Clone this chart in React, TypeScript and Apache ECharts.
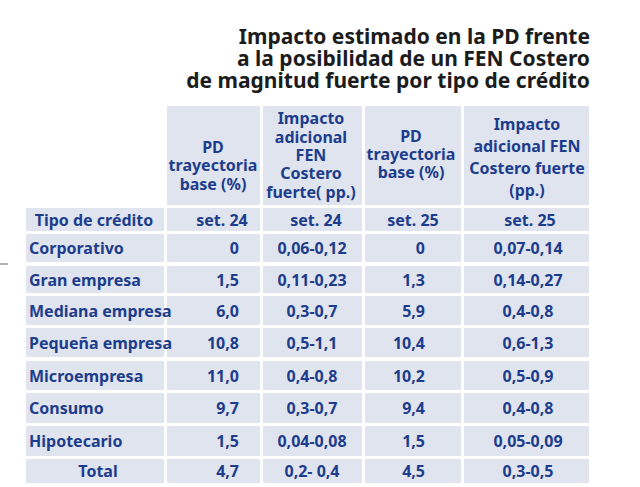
import React, { useEffect, useRef } from "react";
import * as echarts from "echarts";

// ---------- data ----------
const titleLines = [
  "Impacto estimado en la PD frente",
  "a la posibilidad de un FEN Costero",
  "de magnitud fuerte por tipo de crédito",
];
const columnHeaders = [
  [],
  ["PD", "trayectoria", "base (%)"],
  ["Impacto", "adicional", "FEN", "Costero", "fuerte( pp.)"],
  ["PD", "trayectoria", "base (%)"],
  ["Impacto", "adicional FEN", "Costero fuerte", "(pp.)"],
];
const periodLabels = ["Tipo de crédito", "set. 24", "set. 24", "set. 25", "set. 25"];
const categories = [
  "Corporativo",
  "Gran empresa",
  "Mediana empresa",
  "Pequeña empresa",
  "Microempresa",
  "Consumo",
  "Hipotecario",
  "Total",
];
const pdBaseSet24 = [0, 1.5, 6.0, 10.8, 11.0, 9.7, 1.5, 4.7];
const impactSet24 = ["0,06-0,12", "0,11-0,23", "0,3-0,7", "0,5-1,1", "0,4-0,8", "0,3-0,7", "0,04-0,08", "0,2- 0,4"];
const pdBaseSet25 = [0, 1.3, 5.9, 10.4, 10.2, 9.4, 1.5, 4.5];
const impactSet25 = ["0,07-0,14", "0,14-0,27", "0,4-0,8", "0,6-1,3", "0,5-0,9", "0,4-0,8", "0,05-0,09", "0,3-0,5"];

// ---------- layout / style ----------
const W = 640;
const H = 487;
const colEdges = [
  [26, 164],
  [167, 260],
  [263, 362],
  [365, 461],
  [464, 589],
];
const headerEdge = [106, 205];
const periodEdge = [208, 231];
const rowEdges = [
  [234, 262],
  [266, 293],
  [296, 325],
  [328, 357],
  [361, 390],
  [393, 423],
  [426, 456],
  [459, 483],
];
// header text placement per column: [centerX, centerY, lineHeight]
const headerPlace = [
  [95, 155, 18],
  [213, 165, 18.5],
  [311, 155, 18.3],
  [411, 154, 18],
  [527, 157, 22],
];
const periodX = [94, 222, 316, 413, 530];
// data text placement: [x, align]
const dataPlace: [number, string][] = [
  [29, "left"],
  [239, "right"],
  [312, "center"],
  [425, "right"],
  [528, "center"],
];
const titleRight = 590;
const titleY = [36, 58, 80];
const CELL = "#dfe4ee";
const INK = "#1d3d8c";
const FONT = "'Noto Sans', sans-serif";
const BODY_SIZE = 16;

const fmt = (v: number) => (v === 0 ? "0" : v.toFixed(1).replace(".", ","));

type Cell = { value: number[]; lines: string[]; kind: string };

function buildCells(): Cell[] {
  const cells: Cell[] = [];
  for (let c = 1; c < 5; c++) cells.push({ value: [c, -2], lines: columnHeaders[c], kind: "header" });
  for (let c = 0; c < 5; c++) cells.push({ value: [c, -1], lines: [periodLabels[c]], kind: "period" });
  categories.forEach((cat, r) => {
    const row = [cat, fmt(pdBaseSet24[r]), impactSet24[r], fmt(pdBaseSet25[r]), impactSet25[r]];
    row.forEach((t, c) =>
      cells.push({ value: [c, r], lines: [t], kind: cat === "Total" && c === 0 ? "total" : "data" })
    );
  });
  return cells;
}

export default function App() {
  const ref = useRef<HTMLDivElement>(null);
  useEffect(() => {
    document.body.style.margin = "0";
    const chart = echarts.init(ref.current!, null, { renderer: "svg" });
    const cells = buildCells();

    const cellBox = (api: any, c: number, r: number) => {
      const ce = colEdges[c];
      const re = r === -2 ? headerEdge : r === -1 ? periodEdge : rowEdges[r];
      return [api.coord([ce[0], re[0]]), api.coord([ce[1], re[1]])];
    };

    chart.setOption({
      animation: false,
      backgroundColor: "#ffffff",
      grid: { left: 0, right: 0, top: 0, bottom: 0 },
      xAxis: { type: "value", min: 0, max: W, show: false },
      yAxis: { type: "value", min: 0, max: H, inverse: true, show: false },
      graphic: [
        ...titleLines.map((t, i) => ({
          type: "text",
          x: titleRight,
          y: titleY[i],
          style: {
            text: t,
            align: "right",
            verticalAlign: "middle",
            fontSize: 21,
            fontWeight: "bold",
            fontFamily: FONT,
            fill: "#1c1c1c",
          },
        })),
        {
          type: "line",
          shape: { x1: 0, y1: 264, x2: 8, y2: 264 },
          style: { stroke: "#666", lineWidth: 1 },
        },
      ],
      series: [
        {
          type: "custom",
          name: "cells",
          coordinateSystem: "cartesian2d",
          z: 1,
          data: cells,
          renderItem: (params: any, api: any) => {
            const [p0, p1] = cellBox(api, api.value(0), api.value(1));
            return {
              type: "rect",
              shape: { x: p0[0], y: p0[1], width: p1[0] - p0[0], height: p1[1] - p0[1] },
              style: { fill: CELL },
            };
          },
        },
        {
          type: "custom",
          name: "labels",
          coordinateSystem: "cartesian2d",
          z: 5,
          data: cells,
          renderItem: (params: any, api: any) => {
            const cell = cells[params.dataIndex];
            const c = api.value(0);
            const r = api.value(1);
            const [p0, p1] = cellBox(api, c, r);
            let tx: number;
            let ty: number;
            let align = "center";
            let lh = 18;
            if (cell.kind === "header") {
              const hp = headerPlace[c];
              const pt = api.coord([hp[0], hp[1]]);
              tx = pt[0];
              ty = pt[1];
              lh = hp[2];
            } else if (cell.kind === "period") {
              tx = api.coord([periodX[c], 0])[0];
              ty = (p0[1] + p1[1]) / 2;
            } else if (cell.kind === "total") {
              tx = api.coord([periodX[0] + 4, 0])[0];
              ty = (p0[1] + p1[1]) / 2;
            } else {
              const dp = dataPlace[c];
              tx = api.coord([dp[0], 0])[0];
              align = dp[1];
              ty = (p0[1] + p1[1]) / 2;
            }
            const n = cell.lines.length;
            return {
              type: "group",
              children: cell.lines.map((line, i) => ({
                type: "text",
                style: {
                  text: line,
                  x: tx,
                  y: ty + (i - (n - 1) / 2) * lh,
                  align,
                  verticalAlign: "middle",
                  fontSize: BODY_SIZE,
                  fontWeight: "bold",
                  fontFamily: FONT,
                  fill: INK,
                },
              })),
            };
          },
        },
      ],
    });
    return () => chart.dispose();
  }, []);
  return <div ref={ref} style={{ width: W, height: H }} />;
}
